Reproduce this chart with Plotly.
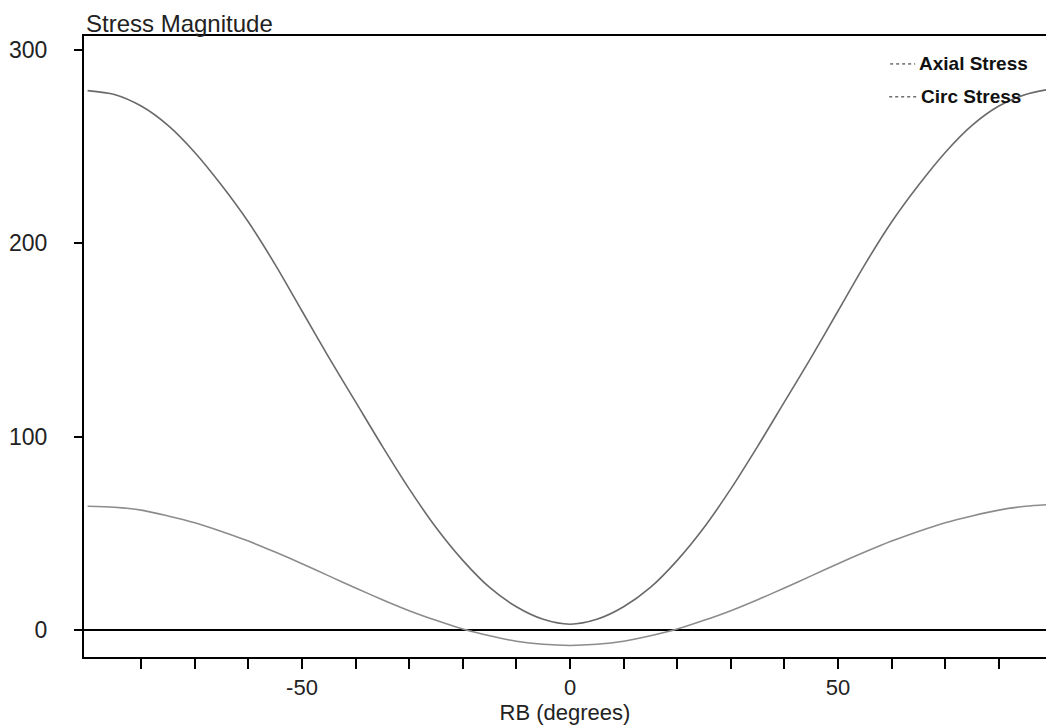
import plotly.graph_objects as go

# RB angle in degrees
rb_deg = [-90, -85, -80, -75, -70, -65, -60, -55, -50, -45, -40, -35, -30, -25, -20, -15, -10, -5, 0,
          5, 10, 15, 20, 25, 30, 35, 40, 45, 50, 55, 60, 65, 70, 75, 80, 85, 90]

axial_stress = [279, 277, 271, 261, 247, 230, 211, 189, 165, 141, 118, 95, 73, 53, 36, 22, 12, 5.5, 3,
                5.5, 12, 22, 36, 53, 73, 95, 118, 141, 165, 189, 211, 230, 247, 261, 271, 277, 280]

circ_stress = [64, 63.5, 62, 59, 55.5, 51, 46, 40.3, 34.3, 28, 21.7, 15.7, 10, 5, 0.5, -3, -5.8, -7.4, -8,
               -7.4, -5.8, -3, 0.5, 5, 10, 15.7, 21.7, 28, 34.3, 40.3, 46, 51, 55.5, 59, 62, 64, 65]

x_tick_vals = [-80, -70, -60, -50, -40, -30, -20, -10, 0, 10, 20, 30, 40, 50, 60, 70, 80]
x_tick_text = ["", "", "", "-50", "", "", "", "", "0", "", "", "", "", "50", "", "", ""]
y_tick_vals = [0, 100, 200, 300]
y_tick_text = ["0", "100", "200", "300"]

FONT = "Liberation Sans, Arial, sans-serif"

fig = go.Figure()
fig.add_trace(go.Scatter(x=rb_deg, y=axial_stress, mode="lines", name="Axial Stress",
                         line=dict(color="#6a6a6a", width=1.6, shape="spline", smoothing=0.8)))
fig.add_trace(go.Scatter(x=rb_deg, y=circ_stress, mode="lines", name="Circ Stress",
                         line=dict(color="#8c8c8c", width=1.6, shape="spline", smoothing=0.8)))

fig.update_layout(
    width=1046, height=725,
    margin=dict(l=84, r=0, t=36, b=68),
    paper_bgcolor="white", plot_bgcolor="white",
    showlegend=False,
    font=dict(family=FONT, color="#222222"),
)

fig.update_xaxes(
    range=[-90.67, 88.8],
    tickmode="array", tickvals=x_tick_vals, ticktext=x_tick_text,
    ticks="outside", ticklen=10, tickwidth=1.5, tickcolor="black",
    showline=True, linecolor="black", linewidth=2, mirror=True,
    showgrid=False, zeroline=False,
    tickfont=dict(size=22, family=FONT, color="#222222"),
    ticklabelstandoff=0,
    title=dict(text="RB (degrees)", font=dict(size=22, family=FONT, color="#222222"), standoff=0),
)

fig.update_yaxes(
    range=[-13.97, 307.24],
    tickmode="array", tickvals=y_tick_vals, ticktext=y_tick_text,
    ticks="outside", ticklen=8, tickwidth=1.5, tickcolor="black",
    showline=True, linecolor="black", linewidth=2, mirror=False,
    showgrid=False,
    zeroline=True, zerolinecolor="black", zerolinewidth=2,
    tickfont=dict(size=23, family=FONT, color="#222222"),
    ticklabelstandoff=22,
)

# Axis caption above the plot area
fig.add_annotation(text="Stress Magnitude", xref="paper", yref="paper",
                   x=0, y=1.0, xanchor="left", yanchor="bottom", yshift=-3,
                   showarrow=False, font=dict(size=24, family=FONT, color="#222222"))

# Legend drawn as short dotted keys with bold labels
legend_items = [("Axial Stress", 0.955, 0.838, 0.864), ("Circ Stress", 0.902, 0.837, 0.866)]
for label, yp, x0, x1 in legend_items:
    fig.add_shape(type="line", xref="paper", yref="paper", x0=x0, x1=x1, y0=yp, y1=yp,
                  line=dict(color="#222222", width=1, dash="dot"))
    fig.add_annotation(text="<b>" + label + "</b>", xref="paper", yref="paper",
                       x=x1 + 0.002, y=yp, xanchor="left", yanchor="middle",
                       showarrow=False, font=dict(size=19, family=FONT, color="#111111"))

fig.write_html("out.html")
